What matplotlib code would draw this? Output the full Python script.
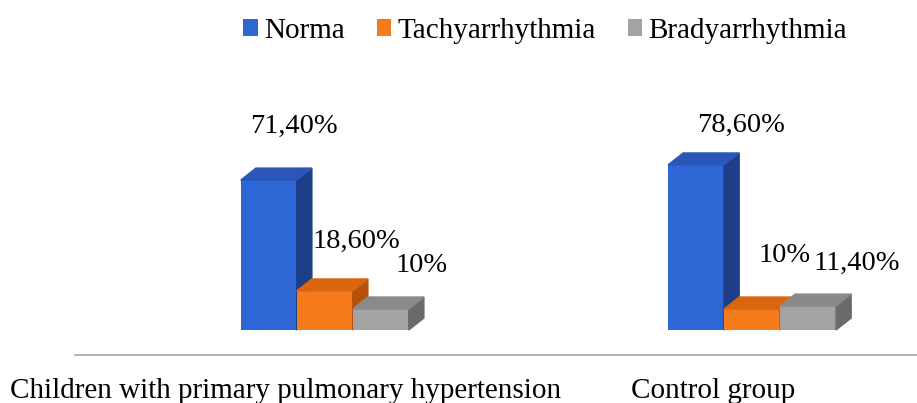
import numpy as np
import matplotlib.pyplot as plt
import matplotlib.transforms as mtransforms
from matplotlib.patches import Polygon

# data
categories = ['Children with primary pulmonary hypertension', 'Control group']
series = ['Norma', 'Tachyarrhythmia', 'Bradyarrhythmia']
norma = [71.4, 78.6]
tachy = [18.6, 10.0]
brady = [10.0, 11.4]
value_labels = [['71,40%', '78,60%'], ['18,60%', '10%'], ['10%', '11,40%']]

front_col = ['#2F66D6', '#F47A1A', '#A3A3A3']
side_col = ['#1D3F8A', '#B4520C', '#6A6A6A']
top_col = ['#2956B8', '#D9660F', '#8A8A8A']

# label offsets (points) from the top of each bar, [series][group]
label_off = [[(13, 30), (27, 20)], [(17, 27), (18, 30)], [(24, 23), (30, 22)]]

plt.rcParams['font.family'] = ['Liberation Serif', 'DejaVu Serif']

fig = plt.figure(figsize=(9.17, 4.03), dpi=100)
ax = fig.add_axes([75 / 917, 48 / 403, 842 / 917, 305 / 403])
ax.set_xlim(0, 842 / 56)
ax.set_ylim(-25 / 2.1, 280 / 2.1)

# fake 3d depth
dx, dy = 0.27, 5.7
centers = 4.46 + 7.63 * np.arange(len(categories))
values = [norma, tachy, brady]

k = 0
for j in range(len(categories)):
    for i in range(len(series)):
        h = values[i][j]
        x0 = centers[j] + (i - 1) - 0.5
        z = 2 + k * 0.1
        ax.bar(x0, h, width=1, align='edge', color=front_col[i], zorder=z,
               label=series[i] if j == 0 else None)
        ax.add_patch(Polygon([(x0 + 1, 0), (x0 + 1 + dx, dy), (x0 + 1 + dx, h + dy), (x0 + 1, h)],
                             closed=True, color=side_col[i], zorder=z))
        ax.add_patch(Polygon([(x0, h), (x0 + dx, h + dy), (x0 + 1 + dx, h + dy), (x0 + 1, h)],
                             closed=True, color=top_col[i], zorder=z))
        ax.annotate(value_labels[i][j], xy=(x0 + 0.5 + dx / 2, h + dy), xytext=label_off[i][j],
                    textcoords='offset points', ha='center', va='center', fontsize=20.5, zorder=10)
        k += 1

for s in ['top', 'left', 'right']:
    ax.spines[s].set_visible(False)
ax.spines['bottom'].set_color('#A6A6A6')
ax.spines['bottom'].set_linewidth(1.2)
ax.set_xticks([])
ax.set_yticks([])

trans = mtransforms.blended_transform_factory(ax.transData, fig.transFigure)
for j, cat in enumerate(categories):
    ax.text(centers[j] - 0.7, 12 / 403, cat, transform=trans, ha='center', va='center', fontsize=21)

fig.legend(loc='center', bbox_to_anchor=(545 / 917, 1 - 31 / 403), ncol=3, frameon=False,
           fontsize=21, handlelength=0.5, handleheight=0.5, columnspacing=1.1, handletextpad=0.2)

fig.savefig('out.png', dpi=100)
